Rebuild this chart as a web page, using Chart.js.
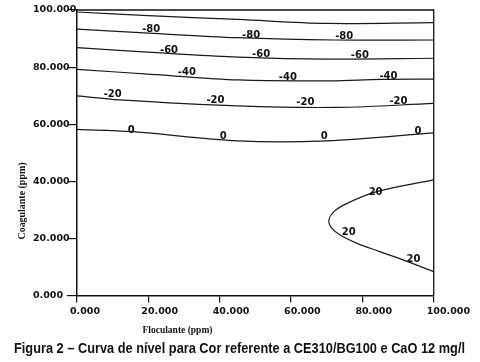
<!DOCTYPE html>
<html><head><meta charset="utf-8">
<script src="https://cdn.jsdelivr.net/npm/chart.js@4/dist/chart.umd.min.js"></script>
<style>html,body{margin:0;padding:0;background:#fff}#wrap{width:480px;height:362px}</style>
</head><body><div id="wrap"><canvas id="c"></canvas></div>
<script>
// Axis ticks
const xTicks = [0, 20, 40, 60, 80, 100];
const yTicks = [0, 20, 40, 60, 80, 100];
const xTitle = 'Floculante (ppm)';
const yTitle = 'Coagulante (ppm)';
const caption = 'Figura 2 \u2013 Curva de nível para Cor referente a CE310/BG100 e CaO 12 mg/l';

// Contour lines (Floculante x, Coagulante y)
const levels = [-100, -80, -60, -40, -20, 0, 20];
const cM100X = [0, 20, 45, 70, 100];
const cM100Y = [99.3, 98.0, 96.7, 95.3, 95.6];
const cM80X = [0, 20, 45, 72, 100];
const cM80Y = [93.3, 91.9, 90.3, 89.5, 89.5];
const cM60X = [0, 25.8, 45.2, 70, 100];
const cM60Y = [86.8, 84.8, 83.5, 82.8, 83.1];
const cM40X = [0, 22, 45.2, 71, 85, 100];
const cM40Y = [79.2, 77.4, 75.5, 75.2, 75.7, 75.8];
const cM20X = [0, 12, 45, 73, 100];
const cM20Y = [69.9, 68.5, 66.4, 65.9, 67.3];
const c0X = [0, 15.5, 45, 70, 100];
const c0Y = [58.2, 57.4, 54.2, 54.2, 57.0];
const c20X = [100, 84, 75.7, 72, 70.6, 71.1, 73.8, 78.5, 84.9, 91.4, 100];
const c20Y = [40.5, 36.4, 32.3, 29.4, 26.5, 24.1, 21.2, 18.3, 15.4, 12.5, 8.4];

// Contour labels
const labelLevels = [-80, -80, -80, -60, -60, -60, -40, -40, -40, -20, -20, -20, -20, 0, 0, 0, 0, 20, 20, 20];
const labelX = [20.8, 48.8, 74.9, 25.8, 51.6, 79.3, 30.8, 59.1, 87.3, 10.0, 38.8, 64.0, 90.1, 15.2, 41.0, 69.3, 95.6, 83.7, 76.2, 94.3];
const labelY = [93.2, 91.2, 90.9, 85.7, 84.6, 84.0, 78.0, 76.5, 76.8, 70.5, 68.2, 67.5, 68.1, 58.0, 55.6, 55.9, 57.4, 36.3, 22.0, 12.8];

const contourXs = [cM100X, cM80X, cM60X, cM40X, cM20X, c0X, c20X];
const contourYs = [cM100Y, cM80Y, cM60Y, cM40Y, cM20Y, c0Y, c20Y];

const datasets = levels.map((lv, i) => ({
  label: String(lv),
  data: contourXs[i].map((x, j) => ({x: x, y: contourYs[i][j]})),
  borderColor: '#1a1a1a',
  borderWidth: 1.2,
  pointRadius: 0,
  tension: 0.35,
  fill: false
}));

const decor = {
  id: 'decor',
  afterDraw(chart) {
    const ctx = chart.ctx, a = chart.chartArea;
    const xs = chart.scales.x, ys = chart.scales.y;
    ctx.save();
    ctx.strokeStyle = '#111';
    ctx.lineWidth = 1.3;
    ctx.beginPath();
    ctx.moveTo(a.left, a.top);
    ctx.lineTo(a.right, a.top);
    ctx.lineTo(a.right, a.bottom);
    ctx.stroke();
    ctx.fillStyle = '#111';
    ctx.textAlign = 'center';
    ctx.textBaseline = 'middle';
    ctx.font = 'bold 10px "DejaVu Sans"';
    labelX.forEach((v, i) => {
      ctx.fillText(String(labelLevels[i]), xs.getPixelForValue(v), ys.getPixelForValue(labelY[i]));
    });
    ctx.font = 'bold 11px "Liberation Serif"';
    ctx.fillText(xTitle, 177.5, 330, 70);
    ctx.textAlign = 'left';
    ctx.textBaseline = 'alphabetic';
    ctx.font = 'bold 15px "Liberation Sans", Arial, sans-serif';
    ctx.fillText(caption, 14, 352.5, 451);
    ctx.textAlign = 'center';
    ctx.textBaseline = 'middle';
    ctx.translate(22, 201);
    ctx.rotate(-Math.PI / 2);
    ctx.font = 'bold 11px "Liberation Serif"';
    ctx.fillText(yTitle, 0, 0, 77);
    ctx.restore();
  }
};

const tickFont = {family: '"DejaVu Sans"', size: 9.5, weight: 'bold'};

new Chart(document.getElementById('c'), {
  type: 'line',
  data: {datasets: datasets},
  options: {
    responsive: true,
    maintainAspectRatio: false,
    devicePixelRatio: 1,
    animation: false,
    layout: {padding: {left: 33, right: 42, top: 10, bottom: 32}},
    plugins: {
      legend: {display: false},
      tooltip: {enabled: false}
    },
    scales: {
      x: {
        type: 'linear', min: 0, max: 100,
        afterBuildTicks(s) { s.ticks = xTicks.map(v => ({value: v})); },
        afterFit(s) { s.height = 34.4; },
        ticks: {
          color: '#111', font: tickFont, align: 'start', labelOffset: -7, padding: 3, maxRotation: 0,
          callback: v => Number(v).toFixed(3)
        },
        grid: {display: true, drawOnChartArea: false, drawTicks: true, tickLength: 7, color: '#111', lineWidth: 1.2},
        border: {display: true, color: '#111', width: 1.5}
      },
      y: {
        type: 'linear', min: 0, max: 100,
        afterBuildTicks(s) { s.ticks = yTicks.map(v => ({value: v})); },
        afterFit(s) { s.width = 44; },
        ticks: {
          color: '#111', font: tickFont, crossAlign: 'far', padding: 2,
          callback: v => Number(v).toFixed(3)
        },
        grid: {display: true, drawOnChartArea: false, drawTicks: true, tickLength: 10, color: '#111', lineWidth: 1.2},
        border: {display: true, color: '#111', width: 1.5}
      }
    }
  },
  plugins: [decor]
});
</script>
</body></html>
